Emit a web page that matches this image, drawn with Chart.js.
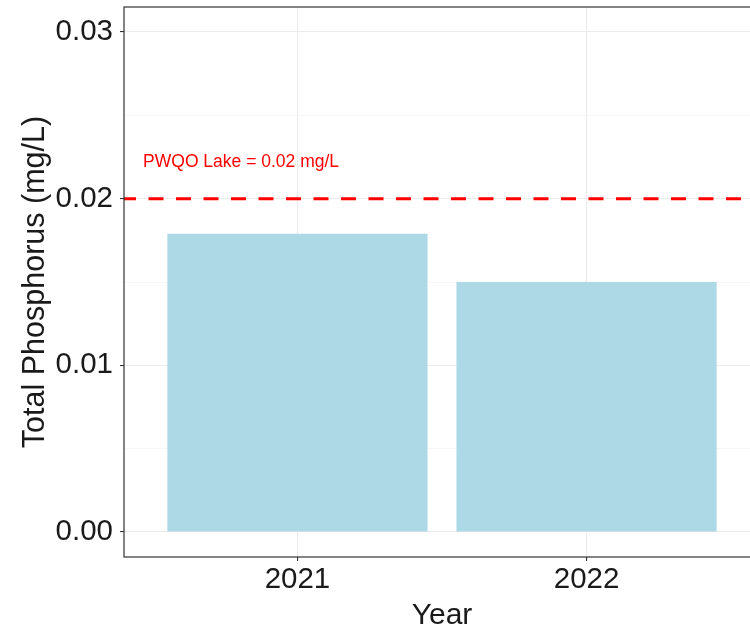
<!DOCTYPE html>
<html>
<head>
<meta charset="utf-8">
<script src="https://cdn.jsdelivr.net/npm/chart.js@4.4.1/dist/chart.umd.min.js"></script>
<style>
  html, body { margin: 0; padding: 0; background: #ffffff; overflow: hidden; }
  #wrap { width: 762px; height: 626px; }
</style>
</head>
<body>
<div id="wrap"><canvas id="c" width="762" height="626"></canvas></div>
<script>
// ---- data ----
const categories = ['2021', '2022'];
const phosphorus = [0.0179, 0.015];
const yMajorTicks = [0, 0.01, 0.02, 0.03];
const yMinorTicks = [0.005, 0.015, 0.025];
const thresholdValue = 0.02;
const thresholdLabel = 'PWQO Lake = 0.02 mg/L';
const xTitle = 'Year';
const yTitle = 'Total Phosphorus (mg/L)';

// ---- build ----
const barData = categories.map((c, i) => ({ x: i + 1, y: phosphorus[i] }));
const isMajor = v => yMajorTicks.some(t => Math.abs(t - v) < 1e-9);

const overlay = {
  id: 'overlay',
  afterDatasetsDraw(chart) {
    const { ctx, chartArea: a, scales: { x, y } } = chart;
    ctx.save();
    ctx.beginPath();
    ctx.rect(a.left, a.top, a.right - a.left, a.bottom - a.top);
    ctx.clip();
    // threshold dashed line
    const yp = y.getPixelForValue(thresholdValue);
    ctx.strokeStyle = '#ff0000';
    ctx.lineWidth = 3;
    ctx.setLineDash([15, 12.5]);
    ctx.beginPath();
    ctx.moveTo(a.left - 3, yp);
    ctx.lineTo(a.right, yp);
    ctx.stroke();
    ctx.setLineDash([]);
    // threshold label
    ctx.fillStyle = '#ff0000';
    ctx.font = '17.5px "Liberation Sans", Arial, sans-serif';
    ctx.textAlign = 'left';
    ctx.textBaseline = 'alphabetic';
    ctx.fillText(thresholdLabel, x.getPixelForValue(0.466), y.getPixelForValue(0.0219));
    ctx.restore();
    // panel border
    ctx.save();
    ctx.strokeStyle = '#333333';
    ctx.lineWidth = 1.2;
    ctx.strokeRect(a.left, a.top, a.right - a.left, a.bottom - a.top);
    ctx.restore();
  }
};

new Chart(document.getElementById('c'), {
  type: 'bar',
  data: {
    datasets: [{
      data: barData,
      backgroundColor: '#ADD8E6',
      borderWidth: 0,
      barPercentage: 0.9,
      categoryPercentage: 1
    }]
  },
  options: {
    responsive: false,
    devicePixelRatio: 1,
    animation: false,
    layout: { padding: { top: 7, right: 2, left: 0, bottom: 0 } },
    plugins: { legend: { display: false }, tooltip: { enabled: false } },
    scales: {
      x: {
        type: 'linear',
        min: 0.4,
        max: 2.6,
        offset: false,
        afterBuildTicks(s) { s.ticks = categories.map((c, i) => ({ value: i + 1 })); },
        afterFit(s) { s.height = 69; s.paddingLeft = 0; s.paddingRight = 0; },
        ticks: {
          callback: v => categories[Math.round(v) - 1] || '',
          color: '#1a1a1a',
          font: { family: '"Liberation Sans", Arial, sans-serif', size: 29.5 },
          padding: 1,
          maxRotation: 0,
          autoSkip: false
        },
        grid: {
          offset: false,
          color: '#ebebeb',
          lineWidth: 1.1,
          tickColor: '#333333',
          tickLength: 4,
          drawTicks: true
        },
        border: { display: false },
        title: {
          display: true,
          text: xTitle,
          color: '#1a1a1a',
          font: { family: '"Liberation Sans", Arial, sans-serif', size: 30, lineHeight: 0.6 },
          padding: { top: 0, bottom: 1 }
        }
      },
      y: {
        min: -0.0015,
        max: 0.0315,
        afterBuildTicks(s) {
          s.ticks = yMajorTicks.concat(yMinorTicks).sort((a, b) => a - b).map(v => ({ value: v }));
        },
        afterFit(s) { s.width = 124; s.paddingTop = 0; s.paddingBottom = 0; },
        ticks: {
          callback: v => isMajor(v) ? v.toFixed(2) : '',
          color: '#1a1a1a',
          font: { family: '"Liberation Sans", Arial, sans-serif', size: 29.5 },
          padding: 7,
          autoSkip: false
        },
        grid: {
          color: ctx => isMajor(ctx.tick.value) ? '#ebebeb' : '#f4f4f4',
          lineWidth: ctx => isMajor(ctx.tick.value) ? 1.1 : 0.7,
          tickColor: ctx => isMajor(ctx.tick.value) ? '#333333' : 'rgba(0,0,0,0)',
          tickLength: 4
        },
        border: { display: false },
        title: {
          display: true,
          text: yTitle,
          color: '#1a1a1a',
          font: { family: '"Liberation Sans", Arial, sans-serif', size: 30.5, lineHeight: 1.2 },
          padding: { top: 17, bottom: 0 }
        }
      }
    }
  },
  plugins: [overlay]
});
</script>
</body>
</html>
